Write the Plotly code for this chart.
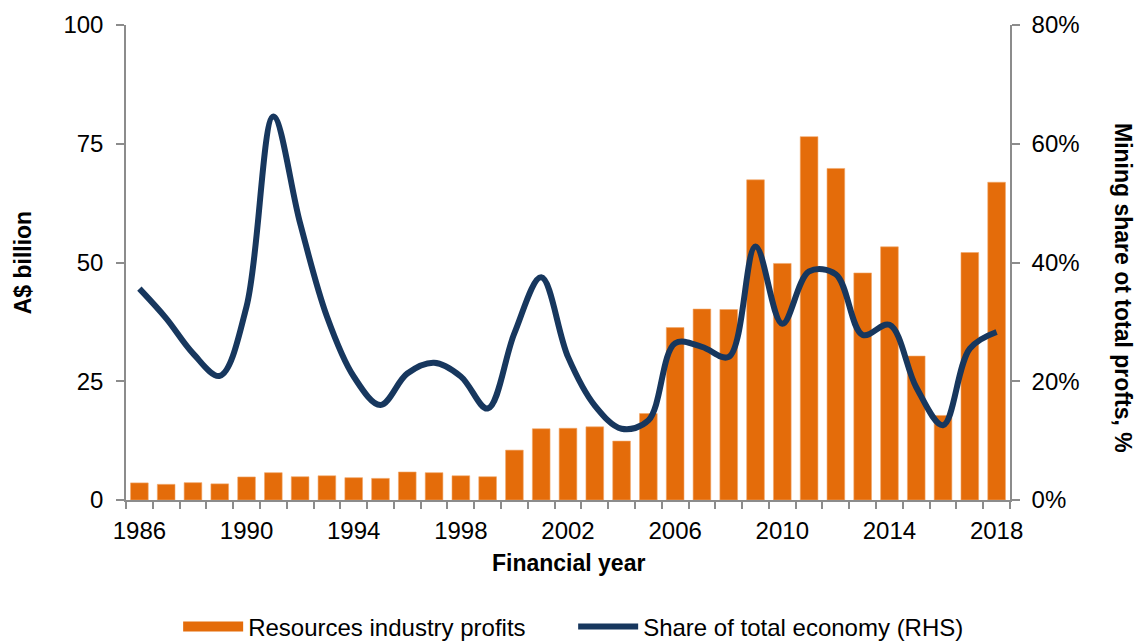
import plotly.graph_objects as go

# Financial years
years = list(range(1986, 2019))

# Resources industry profits, A$ billion
profits = [3.6, 3.3, 3.65, 3.4, 4.85, 5.75, 4.9, 5.1, 4.7, 4.55, 5.9, 5.75, 5.1, 4.9,
           10.5, 15.0, 15.1, 15.4, 12.4, 18.2, 36.3, 40.2, 40.1, 67.4, 49.8, 76.5,
           69.8, 47.8, 53.3, 30.3, 17.8, 52.1, 66.9]

# Mining share of total economy profits, %
share = [35.6, 30.6, 24.7, 20.9, 32.6, 64.6, 46.6, 30.9, 20.8, 16.0, 21.3, 23.1,
         20.8, 15.4, 28.1, 37.5, 24.1, 15.9, 12.0, 13.4, 26.4, 25.8, 24.1, 42.7,
         29.7, 38.5, 38.0, 27.8, 29.5, 19.0, 12.6, 25.5, 28.3]

x_tick_years = [1986, 1990, 1994, 1998, 2002, 2006, 2010, 2014, 2018]
left_ticks = [0, 25, 50, 75, 100]
right_ticks = [0, 20, 40, 60, 80]

ORANGE = "#E46C0A"
NAVY = "#17375E"
AXIS = "#8C8C8C"
FONT = "Liberation Sans, Arial, sans-serif"

fig = go.Figure()
fig.add_trace(go.Bar(
    x=years, y=profits, name="Resources industry profits",
    marker=dict(color=ORANGE, line=dict(color="#F2A86A", width=0.6)),
    width=0.66, showlegend=False, legendgroup="profits",
))
# Wide flat swatch for the bar series' legend entry
fig.add_trace(go.Scatter(
    x=[None], y=[None], name="Resources industry profits", legendgroup="profits",
    mode="lines", line=dict(color=ORANGE, width=11), hoverinfo="skip",
))
fig.add_trace(go.Scatter(
    x=years, y=share, name="Share of total economy (RHS)", yaxis="y2",
    mode="lines", line=dict(color=NAVY, width=6, shape="spline", smoothing=1.0),
))

fig.update_layout(
    width=1137, height=643,
    margin=dict(l=126, r=127, t=25, b=143, autoexpand=False),
    plot_bgcolor="white", paper_bgcolor="white",
    font=dict(family=FONT, size=24, color="black"),
    showlegend=True,
    legend=dict(orientation="h", x=0.059, xanchor="left", y=-0.2196, yanchor="top",
                font=dict(size=24), itemwidth=60, tracegroupgap=0,
                entrywidth=320, entrywidthmode="pixels"),
    xaxis=dict(
        range=[1985.5, 2018.5], tickmode="array", tickvals=x_tick_years,
        ticks="", showgrid=False, zeroline=False,
        showline=True, linecolor=AXIS, linewidth=1.5,
        ticklabelstandoff=8,
        minor=dict(tickmode="array", tickvals=[y - 0.5 for y in years] + [2018.5],
                   ticks="outside", ticklen=7, tickwidth=1.5, tickcolor=AXIS,
                   showgrid=False),
    ),
    yaxis=dict(
        range=[0, 100], tickmode="array", tickvals=left_ticks,
        ticktext=[str(v) for v in left_ticks],
        ticks="outside", ticklen=8, tickwidth=1.5, tickcolor=AXIS,
        showgrid=False, zeroline=False, showline=True, linecolor=AXIS, linewidth=1.5,
        ticklabelstandoff=8,
    ),
    yaxis2=dict(
        range=[0, 80], tickmode="array", tickvals=right_ticks,
        ticktext=[f"{v}%" for v in right_ticks],
        overlaying="y", side="right",
        ticks="outside", ticklen=8, tickwidth=1.5, tickcolor=AXIS,
        showgrid=False, zeroline=False, showline=True, linecolor=AXIS, linewidth=1.5,
        ticklabelstandoff=7,
    ),
    annotations=[
        dict(text="<b>A$ billion</b>", xref="paper", yref="paper", x=-0.1167, y=0.5,
             textangle=-90, showarrow=False, font=dict(size=23),
             xanchor="center", yanchor="middle"),
        dict(text="<b>Mining share ot total profts, %</b>", xref="paper", yref="paper",
             x=1.128, y=0.446, textangle=90, showarrow=False, font=dict(size=23),
             xanchor="center", yanchor="middle"),
        dict(text="<b>Financial year</b>", xref="paper", yref="paper", x=0.5, y=-0.1326,
             showarrow=False, font=dict(size=23), xanchor="center", yanchor="middle"),
    ],
)

fig.write_html("out.html")
